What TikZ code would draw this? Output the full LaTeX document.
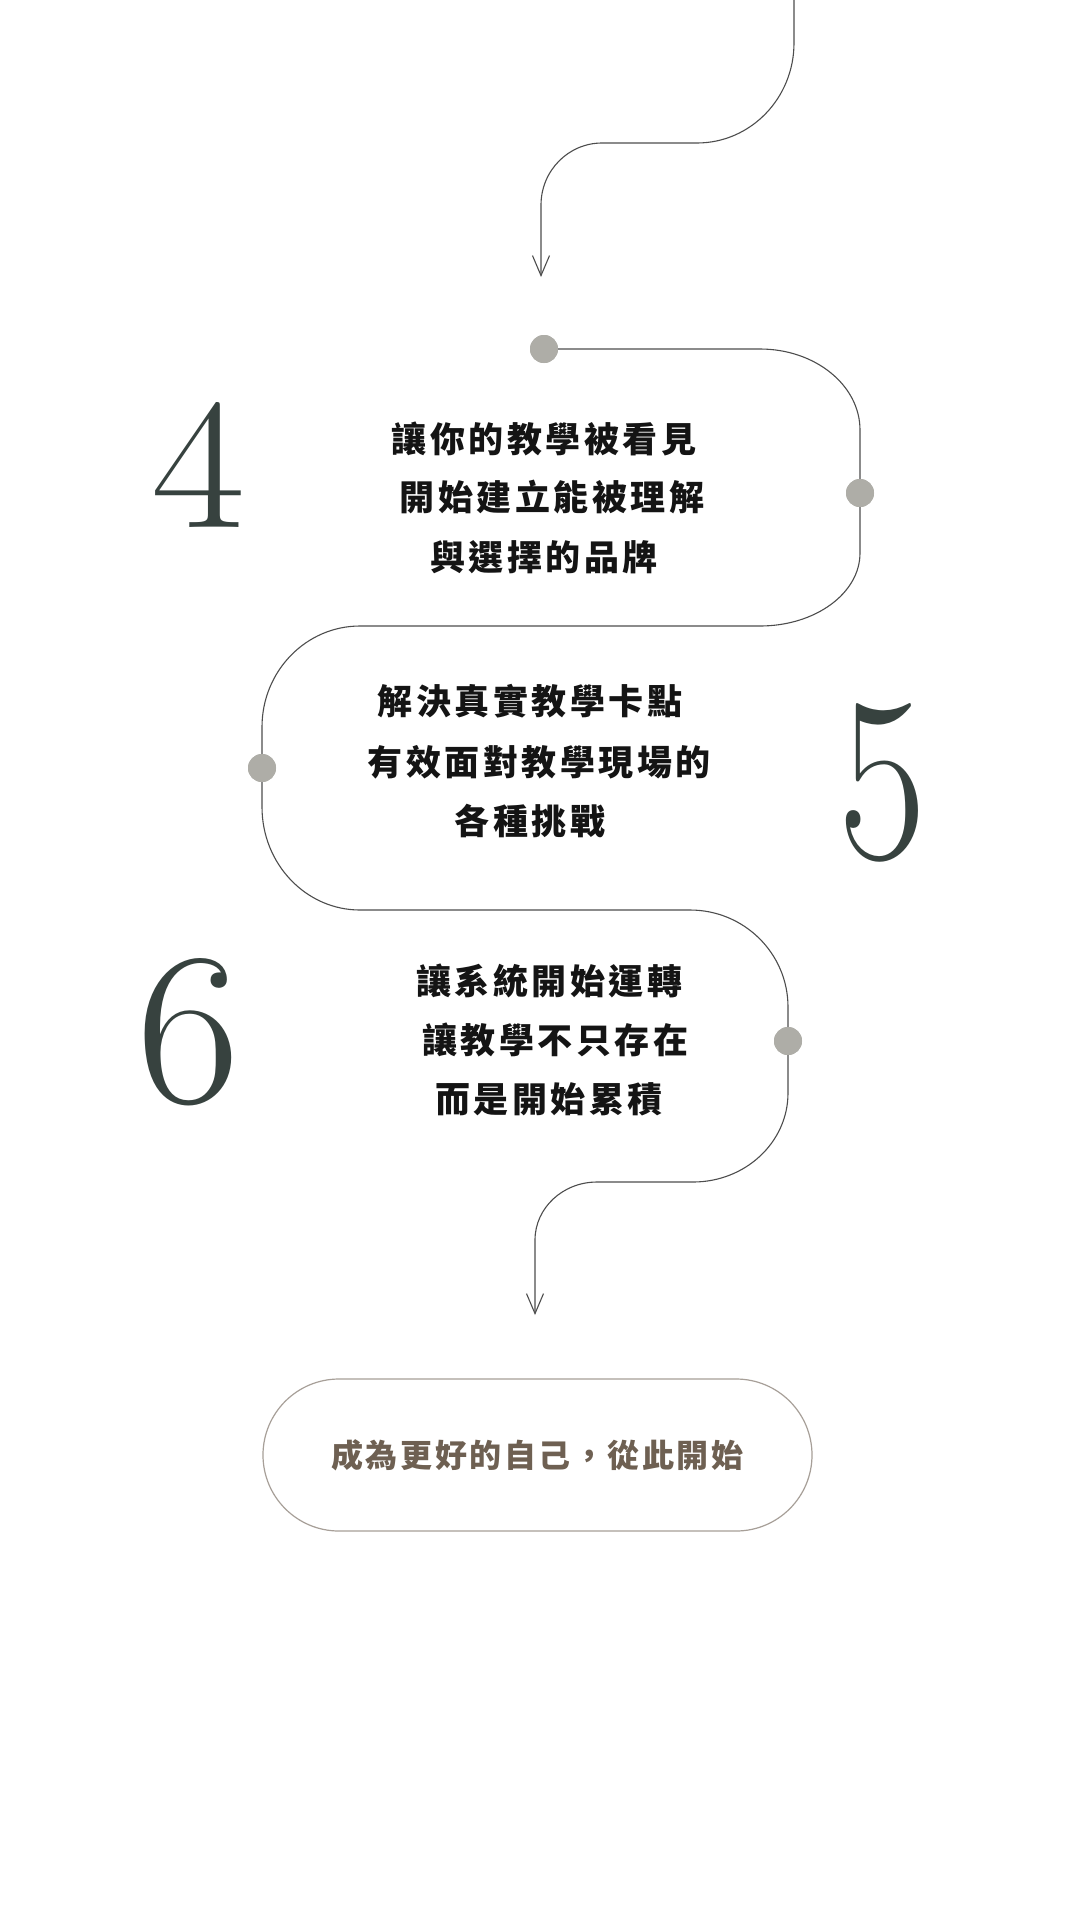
\documentclass[tikz,border=0pt]{standalone}
\usepackage{fontspec}
\usepackage{graphicx}
\usetikzlibrary{arrows.meta}
\newfontfamily\cjk{Noto Sans CJK TC}[LetterSpace=10]
\newfontfamily\cjkpill{Noto Sans CJK TC}[LetterSpace=8]
\definecolor{pathc}{HTML}{4D4D4D}
\definecolor{dotc}{HTML}{AEADA7}
\definecolor{numc}{HTML}{37423F}
\definecolor{pillc}{HTML}{A79F98}
\definecolor{pilltxt}{HTML}{6E6052}
\definecolor{txtc}{HTML}{141414}
\tikzset{
  flow/.style={draw=pathc, line width=1.1pt},
  arrowend/.style={-{Straight Barb[length=20pt,width=17pt,line width=1.1pt]}},
  dotn/.style={circle, fill=dotc, minimum size=28pt, inner sep=0pt},
  txtline/.style={font=\cjk\bfseries\fontsize{35}{35}\selectfont, text=txtc, inner sep=0pt, anchor=center},
  num/.style={text=numc, inner sep=0pt, anchor=center},
  pillbox/.style={draw=pillc, line width=1.2pt, rounded corners=76pt, minimum width=549pt, minimum height=152pt, inner sep=0pt,
    font=\cjkpill\bfseries\fontsize{32}{32}\selectfont, text=pilltxt}
}
\begin{document}
\begin{tikzpicture}[x=1pt,y=-1pt]
\useasboundingbox (0,0) rectangle (1080,1920);
\fill[white] (0,0) rectangle (1080,1920);

% named points
\coordinate (top) at (794,-5);
\coordinate (a1end) at (541,277);
\coordinate (a2end) at (535,1315);

% dots (placed first for names)
\node[dotn] (d1) at (544,349) {};
\node[dotn] (d2) at (860,493) {};
\node[dotn] (d3) at (262,768) {};
\node[dotn] (d4) at (788,1041) {};

% top connector
\draw[flow,arrowend] (top) -- (794,43) .. controls (794,98.2) and (750.6,143) .. (697,143)
  -- (602,143) .. controls (568.3,143) and (541,170.8) .. (541,205) -- (a1end);

% main winding connector
\draw[flow,arrowend] (d1.center) -- (760,349) .. controls (815.2,349) and (860,385.3) .. (860,430)
  -- (d2.center) -- (860,553) .. controls (860,593.3) and (815.2,626) .. (760,626)
  -- (360,626) .. controls (305.9,626) and (262,671.2) .. (262,727)
  -- (d3.center) -- (262,807) .. controls (262,863.9) and (305.9,910) .. (360,910)
  -- (690,910) .. controls (744.1,910) and (788,953.4) .. (788,1007)
  -- (d4.center) -- (788,1093) .. controls (788,1142.2) and (745.5,1182) .. (693,1182)
  -- (597,1182) .. controls (562.8,1182) and (535,1208) .. (535,1240) -- (a2end);

% dots on top of the line
\foreach \d in {d1,d2,d3,d4} \fill[dotc] (\d.center) circle (14pt);

% numerals
\node[num] (n4) at (198.5,464.5) {\resizebox{94pt}{125pt}{\fontsize{100}{100}\selectfont 4}};
\node[num] (n5) at (882.5,782.5) {\resizebox{88pt}{155pt}{\fontsize{100}{100}\selectfont 5}};
\node[num] (n6) at (188.5,1032) {\resizebox{104pt}{144pt}{\fontsize{100}{100}\selectfont 6}};

% block 4
\node[txtline] (t4a) at (544,439) {讓你的教學被看見};
\node[txtline] (t4b) at (552,497) {開始建立能被理解};
\node[txtline] (t4c) at (544,557) {與選擇的品牌};
% block 5
\node[txtline] (t5a) at (530,701) {解決真實教學卡點};
\node[txtline] (t5b) at (539,762) {有效面對教學現場的};
\node[txtline] (t5c) at (530,821) {各種挑戰};
% block 6
\node[txtline] (t6a) at (549,981) {讓系統開始運轉};
\node[txtline] (t6b) at (555,1040) {讓教學不只存在};
\node[txtline] (t6c) at (549,1099) {而是開始累積};

% final pill
\node[pillbox] (pill) at (537.5,1455) {成為更好的自己，從此開始};
\end{tikzpicture}
\end{document}
